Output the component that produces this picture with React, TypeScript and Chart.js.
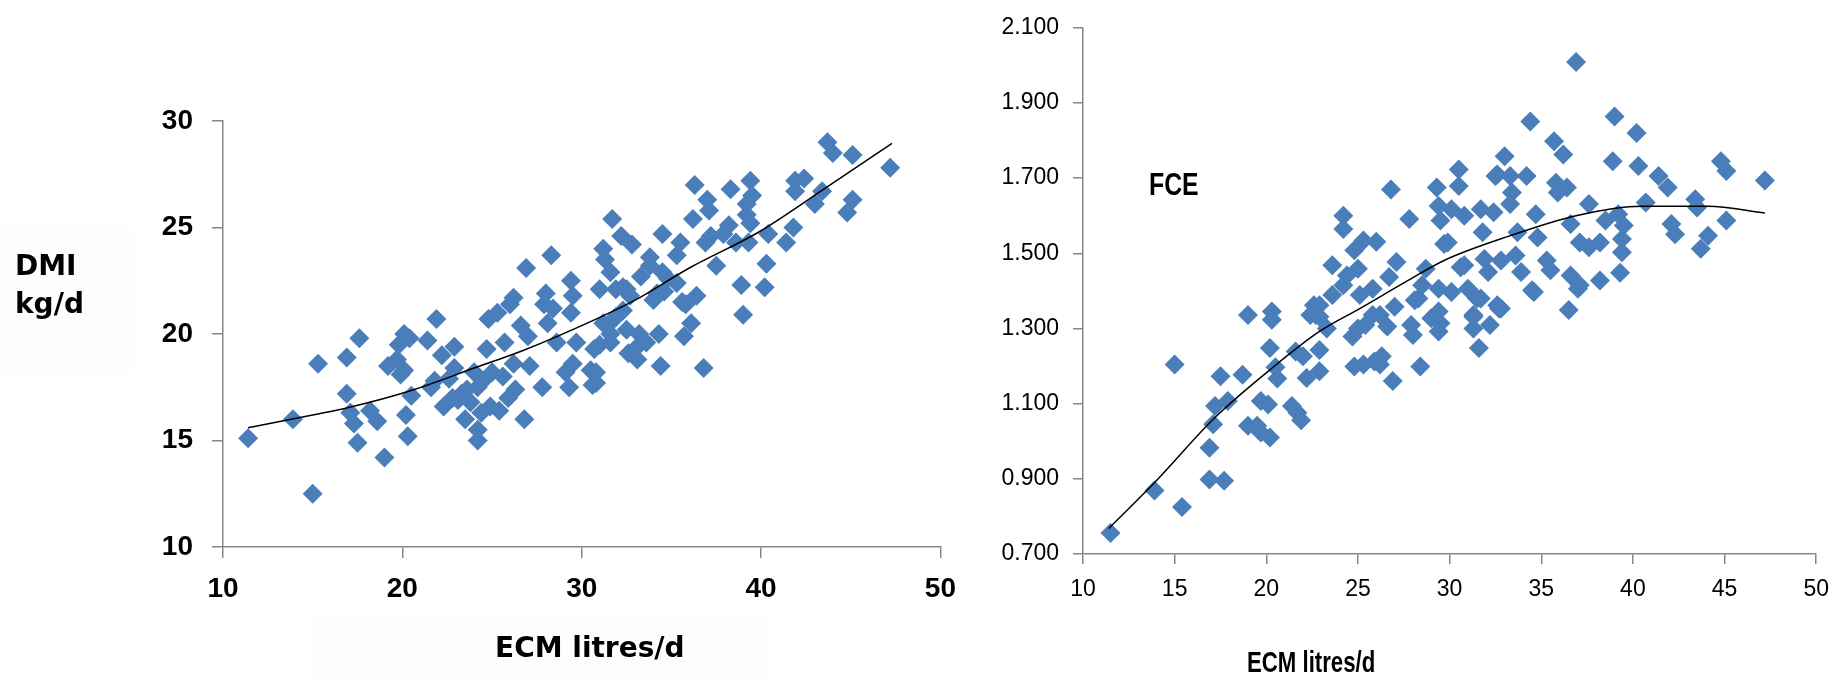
import React, { useEffect, useRef } from 'react';
import { Chart, registerables } from 'chart.js';

Chart.register(...registerables);

// ---------- Left chart: DMI (kg/d) vs ECM (litres/d) ----------
const dmiEcm = [
  11.4, 13.9, 15.0, 15.3, 16.9, 16.9, 17.6, 17.1, 17.3, 17.5, 18.2, 18.6, 19.0, 19.2, 19.7, 19.8, 19.9, 20.1, 20.4, 20.2,
  20.3, 20.5, 20.1, 21.4, 21.9, 21.8, 21.6, 22.2, 22.9, 22.3, 22.9, 23.1, 23.5, 24.2, 24.2, 23.6, 24.2, 24.8, 24.7, 24.9,
  25.3, 25.7, 25.4, 25.9, 26.0, 26.2, 26.8, 26.6, 27.0, 27.1, 27.8, 28.1, 28.6, 27.9, 29.1, 29.3, 29.4, 29.7, 29.5, 30.5,
  30.6, 30.7, 31.0, 31.6, 31.8, 32.6, 33.1, 33.2, 33.6, 34.3, 34.4, 35.7, 32.3, 22.6, 23.3, 23.8, 24.5, 24.0, 22.8, 25.0,
  24.4, 25.6, 26.3, 31.7, 32.2, 32.8, 31.2, 31.3, 31.6, 28.3, 26.9, 34.5, 35.5, 35.3, 33.8, 33.8, 33.3, 34.8, 36.3, 36.2,
  31.0, 29.4, 29.5, 32.3, 32.7, 34.2, 35.6, 26.2, 28.0, 28.4, 43.7, 44.0, 45.1, 47.2, 38.3, 39.4, 39.5, 37.0, 37.1, 39.2,
  39.2, 39.4, 41.9, 42.4, 41.9, 43.0, 43.4, 45.1, 44.8, 38.2, 37.9, 37.2, 36.9, 37.5, 38.6, 39.3, 40.4, 41.4, 41.8, 40.3,
  38.9, 40.2, 39.0, 35.8, 36.4, 36.1, 36.8, 35.3, 34.6, 31.6, 30.8, 30.8, 31.9, 32.5, 31.2, 31.9, 32.5, 33.1, 34.0, 34.5,
];
const dmiValues = [
  15.1, 16.0, 12.5, 18.6, 18.9, 17.2, 19.8, 16.3, 15.8, 14.9, 16.4, 15.9, 14.2, 18.5, 18.8, 19.5, 18.1, 20.0, 19.8, 16.2,
  15.2, 17.1, 18.3, 19.7, 20.7, 17.8, 17.5, 19.0, 19.4, 16.6, 18.4, 16.9, 16.0, 15.5, 15.0, 17.4, 17.5, 20.7, 19.3, 16.6,
  21.0, 19.6, 16.4, 17.0, 21.4, 18.6, 16.0, 20.4, 19.9, 18.5, 17.5, 20.5, 19.6, 21.4, 18.2, 17.5, 21.0, 19.6, 18.6, 18.3,
  17.6, 19.3, 19.5, 20.0, 20.7, 19.1, 18.8, 20.0, 19.6, 20.0, 18.5, 19.9, 21.1, 17.9, 17.2, 16.8, 17.8, 18.2, 17.0, 18.2,
  16.3, 18.0, 17.4, 25.4, 24.6, 24.2, 24.0, 23.5, 22.9, 23.7, 23.1, 24.7, 24.3, 23.7, 23.6, 23.2, 22.7, 22.6, 27.0, 25.4,
  22.1, 22.5, 21.8, 22.2, 21.8, 21.9, 21.5, 21.7, 21.9, 21.2, 29.0, 28.5, 28.4, 27.8, 26.8, 27.2, 26.5, 26.3, 25.8, 26.1,
  25.6, 25.2, 27.2, 27.3, 26.7, 26.1, 26.7, 26.3, 25.7, 25.1, 24.7, 24.6, 24.3, 23.2, 24.3, 24.3, 24.7, 24.3, 25.0, 23.3,
  22.3, 22.2, 20.9, 21.4, 21.8, 20.5, 18.4, 22.4, 22.0, 19.6, 18.2, 17.7, 22.1, 22.1, 20.5, 20.8, 20.2, 19.4, 21.6, 22.9,
];
const dmiTrendEcm = [11.4, 15.0, 17.0, 20.5, 24.0, 26.8, 30.8, 33.0, 36.0, 39.9, 43.5, 47.3];
const dmiTrendValues = [15.6, 16.2, 16.55, 17.35, 18.4, 19.25, 20.7, 21.6, 23.1, 24.8, 26.8, 28.95];
const leftXTicks = [10, 20, 30, 40, 50];
const leftYTicks = [10, 15, 20, 25, 30];

// ---------- Right chart: FCE vs ECM (litres/d) ----------
const fceEcm = [
  11.5, 13.9, 15.4, 15.0, 16.9, 16.9, 17.7, 17.1, 17.2, 17.5, 17.9, 18.7, 19.0, 19.0, 19.5, 19.7, 19.7, 20.1, 20.2, 20.3,
  20.3, 20.2, 20.5, 20.6, 21.4, 21.7, 21.9, 21.6, 22.0, 22.2, 22.9, 22.9, 22.4, 22.9, 23.3, 24.8, 25.3, 25.9, 26.3, 26.2,
  26.9, 28.4, 24.7, 25.0, 26.6, 27.0, 27.9, 28.0, 28.1, 29.5, 29.4, 31.3, 31.6, 32.2, 32.7, 31.3, 25.8, 25.4,
  26.8, 24.2, 24.2, 25.3, 26.0, 24.8, 23.6, 24.4, 25.0, 27.1, 26.7, 27.8, 29.3, 29.4, 29.5, 30.5, 30.5, 30.1, 30.8, 31.7,
  32.4, 32.5, 33.0, 31.8, 29.7, 28.7, 30.6, 31.9, 32.1, 25.8, 25.1, 28.3, 29.4, 30.1, 31.0, 31.7, 32.6, 22.6, 22.9, 26.2,
  23.6, 36.9, 34.4, 39.0, 40.2, 35.7, 36.2, 38.9, 40.3, 32.6, 33.3, 34.2, 35.8, 36.4, 35.9, 41.4, 41.9, 44.8, 45.1, 47.2,
  33.4, 33.3, 40.7, 43.4, 43.5, 37.6, 39.2, 34.7, 45.1, 42.1, 42.3, 38.5, 39.5, 39.4, 36.6, 44.1, 43.7, 37.1, 37.6, 38.2,
  39.4, 33.7, 34.8, 29.9, 30.8, 32.8, 33.6, 33.9, 34.5, 35.3, 35.5, 36.6, 37.1, 38.2, 39.3, 36.5, 32.8, 31.5, 34.6, 37.0,
  31.3, 24.2, 28.5, 29.0, 29.4, 22.7,
];
const fceValues = [
  0.756, 0.869, 0.825, 1.204, 0.983, 0.898, 0.895, 1.045, 1.094, 1.173, 1.107, 1.177, 1.336, 1.041, 1.041, 1.107, 1.023, 1.098, 1.010, 1.345,
  1.323, 1.248, 1.197, 1.167, 1.094, 1.076, 1.056, 1.239, 1.226, 1.168, 1.186, 1.243, 1.336, 1.362, 1.300, 1.199, 1.204, 1.212, 1.226, 1.204,
  1.160, 1.199, 1.279, 1.300, 1.305, 1.358, 1.309, 1.283, 1.375, 1.314, 1.345, 1.300, 1.248, 1.309, 1.353, 1.336, 1.336, 1.309,
  1.670, 1.600, 1.565, 1.534, 1.531, 1.508, 1.468, 1.441, 1.459, 1.477, 1.437, 1.591, 1.675, 1.626, 1.587, 1.723, 1.679, 1.617, 1.600, 1.617,
  1.609, 1.706, 1.758, 1.556, 1.525, 1.459, 1.463, 1.485, 1.450, 1.406, 1.389, 1.380, 1.406, 1.397, 1.406, 1.380, 1.362, 1.362, 1.331, 1.336,
  1.389, 2.009, 1.851, 1.864, 1.820, 1.798, 1.763, 1.745, 1.732, 1.710, 1.706, 1.706, 1.688, 1.675, 1.662, 1.706, 1.675, 1.745, 1.719, 1.694,
  1.662, 1.631, 1.635, 1.644, 1.622, 1.631, 1.604, 1.604, 1.587, 1.578, 1.551, 1.587, 1.574, 1.538, 1.578, 1.547, 1.512, 1.529, 1.516, 1.529,
  1.503, 1.556, 1.542, 1.529, 1.468, 1.481, 1.494, 1.450, 1.402, 1.481, 1.455, 1.441, 1.415, 1.428, 1.448, 1.349, 1.353, 1.380, 1.397, 1.406,
  1.331, 1.415, 1.415, 1.327, 1.292, 1.336,
];
const fceTrendEcm = [11.4, 14.0, 17.2, 20.2, 22.9, 25.1, 27.6, 29.7, 33.2, 36.9, 40.5, 44.1, 47.2];
const fceTrendValues = [0.768, 0.895, 1.063, 1.19, 1.292, 1.353, 1.424, 1.481, 1.545, 1.6, 1.625, 1.625, 1.607];
const rightXTicks = [10, 15, 20, 25, 30, 35, 40, 45, 50];
const rightYTicks = [0.7, 0.9, 1.1, 1.3, 1.5, 1.7, 1.9, 2.1];

const BLUE = '#4a7ebb';
const AXIS = '#878787';

function toPoints(xs: number[], ys: number[]) {
  return xs.map((x, i) => ({ x, y: ys[i] }));
}

function roundRect(ctx: CanvasRenderingContext2D, x: number, y: number, w: number, h: number, r: number) {
  ctx.beginPath();
  ctx.moveTo(x + r, y);
  ctx.lineTo(x + w - r, y);
  ctx.quadraticCurveTo(x + w, y, x + w, y + r);
  ctx.lineTo(x + w, y + h - r);
  ctx.quadraticCurveTo(x + w, y + h, x + w - r, y + h);
  ctx.lineTo(x + r, y + h);
  ctx.quadraticCurveTo(x, y + h, x, y + h - r);
  ctx.lineTo(x, y + r);
  ctx.quadraticCurveTo(x, y, x + r, y);
  ctx.closePath();
}

const leftTexts = {
  id: 'leftTexts',
  beforeDraw(chart: any) {
    const ctx = chart.ctx as CanvasRenderingContext2D;
    ctx.save();
    ctx.fillStyle = '#fdfdfd';
    roundRect(ctx, -10, 223, 143, 150, 14);
    ctx.fill();
    roundRect(ctx, 313, 615, 457, 80, 14);
    ctx.fill();
    ctx.restore();
  },
  afterDraw(chart: any) {
    const ctx = chart.ctx as CanvasRenderingContext2D;
    ctx.save();
    ctx.fillStyle = '#000';
    ctx.textBaseline = 'alphabetic';
    ctx.textAlign = 'left';
    ctx.font = 'bold 28px "DejaVu Sans"';
    ctx.fillText('DMI', 15, 275);
    ctx.fillText('kg/d', 15, 313);
    ctx.fillText('ECM litres/d', 495, 657);
    ctx.restore();
  },
};

const rightTexts = {
  id: 'rightTexts',
  afterDraw(chart: any) {
    const ctx = chart.ctx as CanvasRenderingContext2D;
    ctx.save();
    ctx.fillStyle = '#000';
    ctx.textBaseline = 'alphabetic';
    ctx.textAlign = 'left';
    ctx.save();
    ctx.translate(179, 195);
    ctx.scale(0.8, 1);
    ctx.font = 'bold 31px "Liberation Sans"';
    ctx.fillText('FCE', 0, 0);
    ctx.restore();
    ctx.save();
    ctx.translate(277, 672);
    ctx.scale(0.74, 1);
    ctx.font = 'bold 30px "Liberation Sans"';
    ctx.fillText('ECM litres/d', 0, 0);
    ctx.restore();
    ctx.restore();
  },
};

function makeConfig(opts: {
  points: { x: number; y: number }[];
  trend: { x: number; y: number }[];
  xTicks: number[];
  yTicks: number[];
  xMin: number; xMax: number; yMin: number; yMax: number;
  padding: { top: number; right: number; left: number; bottom: number };
  yWidth: number; xHeight: number;
  font: any; tickLen: number; yPad: number; xPad: number;
  yFormat: (v: number) => string;
  plugin: any;
}): any {
  const gridCommon = {
    drawOnChartArea: false,
    drawTicks: true,
    tickLength: opts.tickLen,
    color: AXIS,
    lineWidth: 1.5,
  };
  return {
    type: 'scatter',
    data: {
      datasets: [
        {
          data: opts.trend,
          showLine: true,
          borderColor: '#000',
          borderWidth: 1.5,
          pointRadius: 0,
          cubicInterpolationMode: 'monotone',
          fill: false,
        },
        {
          data: opts.points,
          pointStyle: 'rectRot',
          pointRadius: 10,
          backgroundColor: BLUE,
          borderColor: BLUE,
          borderWidth: 0,
          showLine: false,
        },
      ],
    },
    options: {
      responsive: false,
      animation: false,
      events: [],
      layout: { padding: opts.padding },
      plugins: { legend: { display: false }, tooltip: { enabled: false }, title: { display: false } },
      scales: {
        x: {
          type: 'linear',
          min: opts.xMin,
          max: opts.xMax,
          afterFit: (s: any) => { s.height = opts.xHeight; },
          afterBuildTicks: (s: any) => { s.ticks = opts.xTicks.map((v) => ({ value: v })); },
          grid: gridCommon,
          border: { display: true, color: AXIS, width: 1.5 },
          ticks: { color: '#000', font: opts.font, padding: opts.xPad, maxRotation: 0, autoSkip: false,
            callback: (v: any) => String(v) },
        },
        y: {
          type: 'linear',
          min: opts.yMin,
          max: opts.yMax,
          afterFit: (s: any) => { s.width = opts.yWidth; },
          afterBuildTicks: (s: any) => { s.ticks = opts.yTicks.map((v) => ({ value: v })); },
          grid: gridCommon,
          border: { display: true, color: AXIS, width: 1.5 },
          ticks: { color: '#000', font: opts.font, padding: opts.yPad, autoSkip: false,
            callback: (v: any) => opts.yFormat(Number(v)) },
        },
      },
    },
    plugins: [opts.plugin],
  };
}

export default function App() {
  const leftRef = useRef<HTMLCanvasElement>(null);
  const rightRef = useRef<HTMLCanvasElement>(null);

  useEffect(() => {
    const left = new Chart(leftRef.current as HTMLCanvasElement, makeConfig({
      points: toPoints(dmiEcm, dmiValues),
      trend: toPoints(dmiTrendEcm, dmiTrendValues),
      xTicks: leftXTicks,
      yTicks: leftYTicks,
      xMin: 10, xMax: 50, yMin: 10, yMax: 30,
      padding: { top: 121, right: 24, left: 0, bottom: 0 },
      yWidth: 223, xHeight: 131,
      font: { family: '"Liberation Sans", Arial, sans-serif', size: 28, weight: 'bold' },
      tickLen: 11, yPad: 19, xPad: 14,
      yFormat: (v) => String(v),
      plugin: leftTexts,
    }));
    const right = new Chart(rightRef.current as HTMLCanvasElement, makeConfig({
      points: toPoints(fceEcm, fceValues),
      trend: toPoints(fceTrendEcm, fceTrendValues),
      xTicks: rightXTicks,
      yTicks: rightYTicks,
      xMin: 10, xMax: 50, yMin: 0.7, yMax: 2.1,
      padding: { top: 24, right: 14, left: 0, bottom: 0 },
      yWidth: 113, xHeight: 124,
      font: { family: '"Liberation Sans", Arial, sans-serif', size: 23, weight: 'normal' },
      tickLen: 10, yPad: 14, xPad: 12,
      yFormat: (v) => v.toFixed(3),
      plugin: rightTexts,
    }));
    return () => {
      left.destroy();
      right.destroy();
    };
  }, []);

  return (
    <div style={{ position: 'absolute', left: 0, top: 0, width: 1841, height: 678, background: '#fff', overflow: 'hidden' }}>
      <canvas ref={leftRef} width={970} height={678}
        style={{ position: 'absolute', left: 0, top: 0, width: 970, height: 678 }} />
      <canvas ref={rightRef} width={871} height={678}
        style={{ position: 'absolute', left: 970, top: 0, width: 871, height: 678 }} />
    </div>
  );
}
